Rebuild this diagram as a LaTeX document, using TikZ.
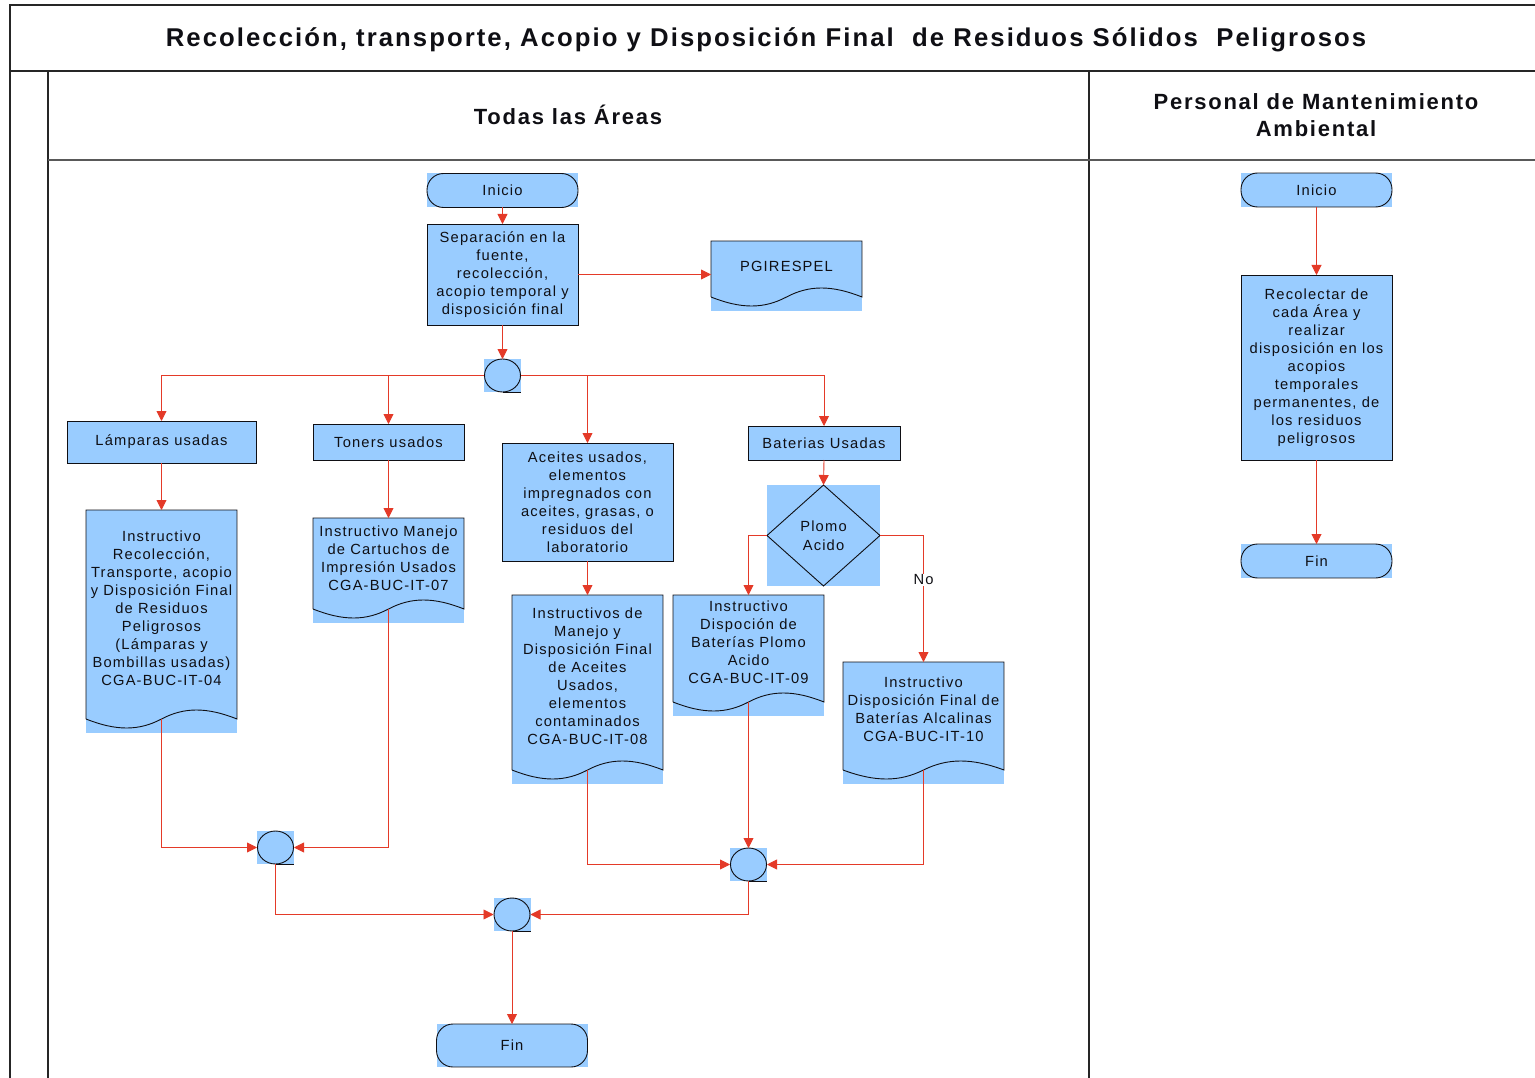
\documentclass[tikz,border=0pt]{standalone}
\usepackage{fontspec}
\setmainfont{Liberation Sans}[LetterSpace=8]
\usetikzlibrary{arrows.meta,calc}
\definecolor{boxblue}{RGB}{153,204,255}
\definecolor{flowred}{RGB}{228,58,40}
\definecolor{ink}{RGB}{15,15,20}

\newcommand\termout[1]{\draw[outl, rounded corners=16.5pt] (#1.north west) rectangle (#1.south east);}
\newcommand\connout[1]{\draw[outl] (#1.center) ellipse [x radius=18pt, y radius=16.5pt]; \draw[outl] (#1.south) -- (#1.south east);}
\newcommand\docout[1]{%
  \draw[outl] ([yshift=14pt]#1.south west) -- (#1.north west) -- (#1.north east) -- ([yshift=14pt]#1.south east)
    .. controls ([yshift=26pt]$(#1.south west)!0.8!(#1.south east)$) and ([yshift=26pt]$(#1.south west)!0.65!(#1.south east)$) .. ([yshift=14pt]#1.south)
    .. controls ([yshift=2pt]$(#1.south west)!0.35!(#1.south east)$) and ([yshift=2pt]$(#1.south west)!0.2!(#1.south east)$) .. ([yshift=14pt]#1.south west);}

\begin{document}
\begin{tikzpicture}[x=1pt,y=-1pt,
  blk/.style={fill=boxblue, draw=none, inner sep=0pt, outer sep=0pt},
  txt/.style={inner sep=0pt, align=center, text=ink, font=\fontsize{14.7}{18}\selectfont},
  proc/.style={blk, txt, draw=ink, line width=0.9pt},
  outl/.style={draw=ink, line width=0.9pt},
  flow/.style={draw=flowred, line width=0.9pt, -{Triangle[length=10pt,width=10pt]}},
  frame/.style={draw=black!85, line width=1.4pt}]

\useasboundingbox (0,0) rectangle (1535,1078);
\fill[white] (0,0) rectangle (1535,1078);

% frame
\draw[frame] (1535,5) -- (10,5) -- (10,1078);
\draw[frame] (10,71) -- (1535,71);
\draw[frame] (48,71) -- (48,1078);
\draw[frame] (1089,71) -- (1089,1078);
\draw[frame, draw=black!65] (48,160) -- (1535,160);

\node[txt, font=\bfseries\fontsize{25.7}{30}\selectfont] (title) at (766,40) {Recolección, transporte, Acopio y Disposición Final\ \ de Residuos Sólidos\ \ Peligrosos};
\node[txt, font=\bfseries\fontsize{22}{27}\selectfont] (h1) at (568,115) {Todas las Áreas};
\node[txt, font=\bfseries\fontsize{22}{27}\selectfont] (h2) at (1316,115) {Personal de Mantenimiento\\Ambiental};

% left lane
\node[blk, txt, minimum width=151, minimum height=34] (ini) at (502.5,190.5) {Inicio};
\termout{ini}
\node[proc, minimum width=151, minimum height=101] (sep) at (502.5,274.5) {Separación en la\\fuente,\\recolección,\\acopio temporal y\\disposición final};
\node[blk, minimum width=151, minimum height=70] (pg) at (786.5,276) {};
\docout{pg}
\node[txt] (pgt) at (786.5,266) {PGIRESPEL};
\node[blk, minimum width=37, minimum height=33] (c1) at (502.5,375.5) {};
\connout{c1}

\node[proc, minimum width=189, minimum height=42] (lam) at (161.5,442) {Lámparas usadas};
\node[proc, minimum width=151, minimum height=36] (ton) at (388.5,442) {Toners usados};
\node[proc, minimum width=171, minimum height=118] (ace) at (587.5,502) {Aceites usados,\\elementos\\impregnados con\\aceites, grasas, o\\residuos del\\laboratorio};
\node[proc, minimum width=152, minimum height=34] (bat) at (824,443) {Baterias Usadas};

\node[blk, minimum width=151, minimum height=223] (d1) at (161.5,621.5) {};
\docout{d1}
\node[txt] (d1t) at (161.5,608.5) {Instructivo\\Recolección,\\Transporte, acopio\\y Disposición Final\\de Residuos\\Peligrosos\\(Lámparas y\\Bombillas usadas)\\CGA-BUC-IT-04};

\node[blk, minimum width=151, minimum height=105] (d2) at (388.5,570.5) {};
\docout{d2}
\node[txt] (d2t) at (388.5,558) {Instructivo Manejo\\de Cartuchos de\\Impresión Usados\\CGA-BUC-IT-07};

\node[blk, minimum width=151, minimum height=189] (d3) at (587.5,689.5) {};
\docout{d3}
\node[txt] (d3t) at (587.5,676) {Instructivos de\\Manejo y\\Disposición Final\\de Aceites\\Usados,\\elementos\\contaminados\\CGA-BUC-IT-08};

\node[blk, minimum width=113, minimum height=101] (dia) at (823.5,535.5) {};
\draw[outl] (dia.north) -- (dia.east) -- (dia.south) -- (dia.west) -- cycle;
\node[txt, font=\fontsize{14.7}{19}\selectfont] (diat) at (823.5,535.5) {Plomo\\Acido};

\node[blk, minimum width=151, minimum height=121] (d4) at (748.5,655.5) {};
\docout{d4}
\node[txt] (d4t) at (748.5,642) {Instructivo\\Dispoción de\\Baterías Plomo\\Acido\\CGA-BUC-IT-09};

\node[blk, minimum width=161, minimum height=122] (d5) at (923.5,723) {};
\docout{d5}
\node[txt] (d5t) at (923.5,709) {Instructivo\\Disposición Final de\\Baterías Alcalinas\\CGA-BUC-IT-10};

\node[blk, minimum width=37, minimum height=33] (c2) at (275.5,847.5) {};
\connout{c2}
\node[blk, minimum width=37, minimum height=33] (c3) at (748.5,864.5) {};
\connout{c3}
\node[blk, minimum width=37, minimum height=33] (c4) at (512,914.5) {};
\connout{c4}

\node[blk, txt, minimum width=151, minimum height=43] (fin) at (512,1045.5) {Fin};
\termout{fin}

% right lane
\node[blk, txt, minimum width=151, minimum height=34] (ini2) at (1316.5,190) {Inicio};
\termout{ini2}
\node[proc, minimum width=151, minimum height=185] (rec) at (1316.5,367.5) {Recolectar de\\cada Área y\\realizar\\disposición en los\\acopios\\temporales\\permanentes, de\\los residuos\\peligrosos};
\node[blk, txt, minimum width=151, minimum height=34] (fin2) at (1316.5,561) {Fin};
\termout{fin2}

% connectors
\draw[flow] (ini.south) -- (sep.north);
\draw[flow] (sep.east) -- (sep.east -| pg.west);
\draw[flow] (sep.south) -- (c1.north);
\draw[flow] (c1.west) -| (lam.north);
\draw[flow] (c1.west -| ton.north) -- (ton.north);
\draw[flow] (c1.east) -| (bat.north);
\draw[flow] (c1.east -| ace.north) -- (ace.north);
\draw[flow] (lam.south) -- (d1.north);
\draw[flow] (ton.south) -- (d2.north);
\draw[flow] (ace.south) -- (d3.north);
\draw[flow] (bat.south) -- (dia.north);
\draw[flow] (dia.west) -| (d4.north);
\draw[flow] (dia.east) -| node[pos=0.675, fill=white, txt, inner sep=1pt] (no) {No} (d5.north);
\draw[flow] ([yshift=14pt]d1.south) |- (c2.west);
\draw[flow] ([yshift=14pt]d2.south) |- (c2.east);
\draw[flow] ([yshift=14pt]d3.south) |- (c3.west);
\draw[flow] ([yshift=14pt]d4.south) -- (c3.north);
\draw[flow] ([yshift=14pt]d5.south) |- (c3.east);
\draw[flow] (c2.south) |- (c4.west);
\draw[flow] (c3.south) |- (c4.east);
\draw[flow] (c4.south) -- (fin.north);
\draw[flow] (ini2.south) -- (rec.north);
\draw[flow] (rec.south) -- (fin2.north);
\end{tikzpicture}
\end{document}
